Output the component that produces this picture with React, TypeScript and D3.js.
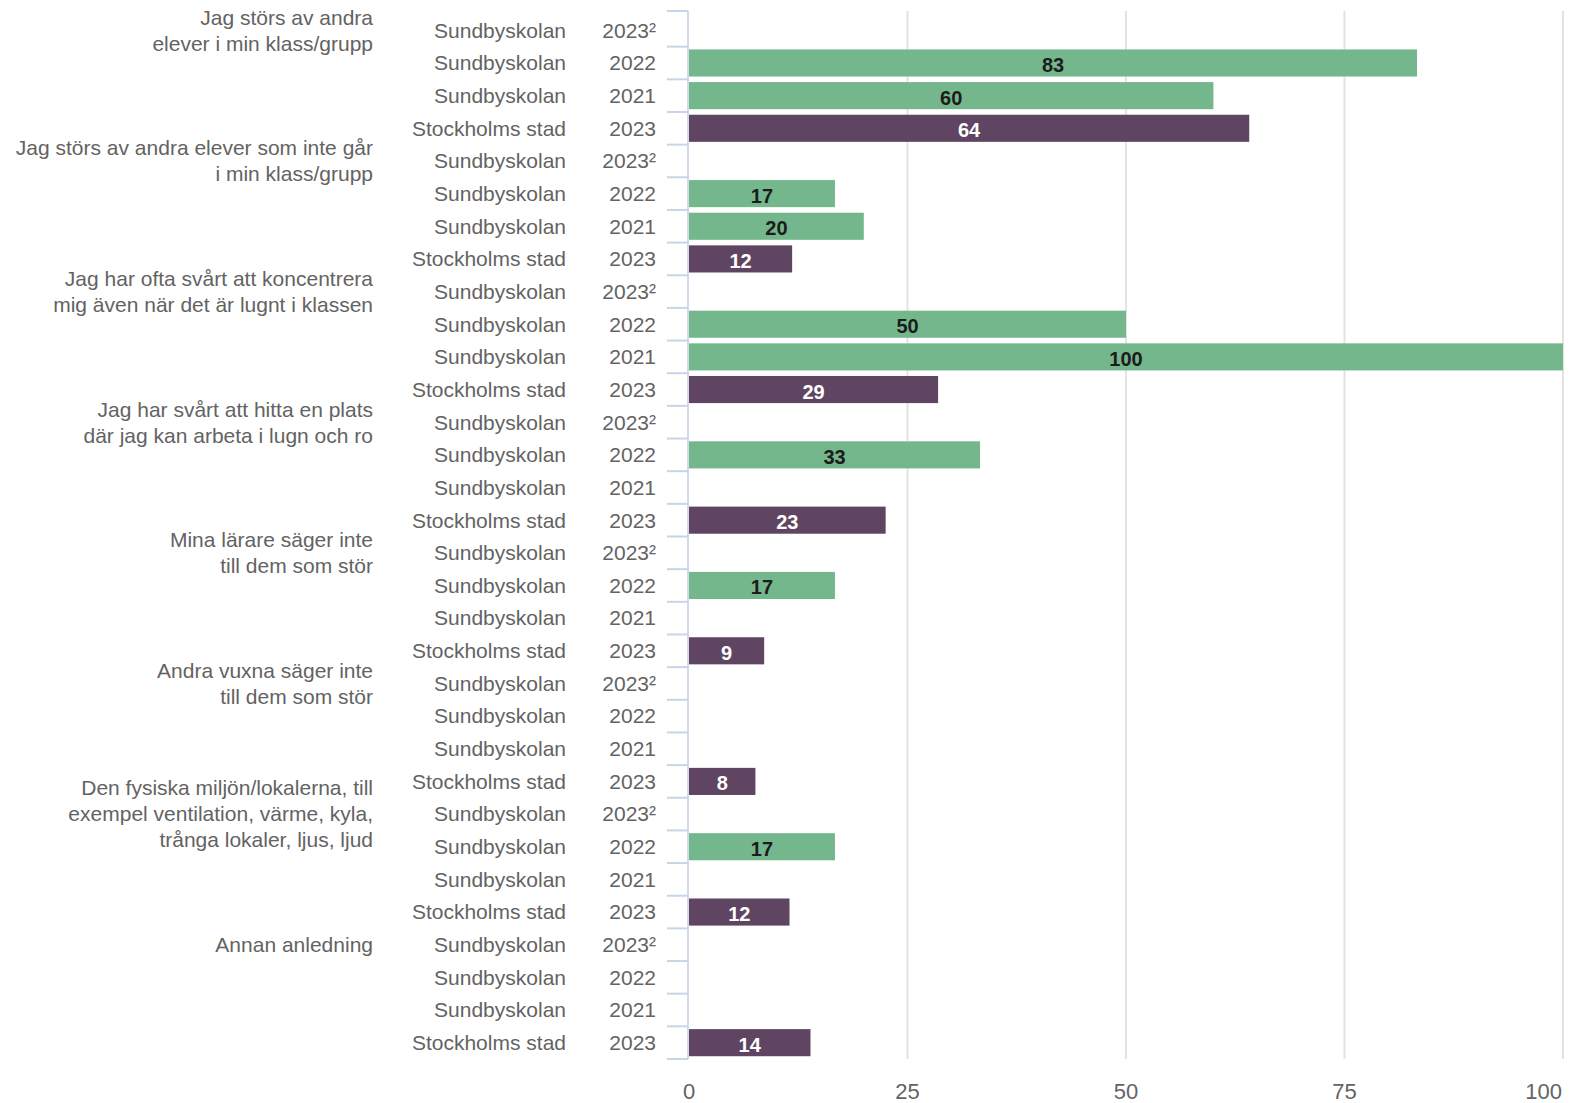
import * as d3 from "d3";

// survey statements (one group of four rows each)
const categories: string[][] = [
  ["Jag störs av andra", "elever i min klass/grupp"],
  ["Jag störs av andra elever som inte går", "i min klass/grupp"],
  ["Jag har ofta svårt att koncentrera", "mig även när det är lugnt i klassen"],
  ["Jag har svårt att hitta en plats", "där jag kan arbeta i lugn och ro"],
  ["Mina lärare säger inte", "till dem som stör"],
  ["Andra vuxna säger inte", "till dem som stör"],
  ["Den fysiska miljön/lokalerna, till", "exempel ventilation, värme, kyla,", "trånga lokaler, ljus, ljud"],
  ["Annan anledning"],
];

// rows inside each group
const seriesUnits = ["Sundbyskolan", "Sundbyskolan", "Sundbyskolan", "Stockholms stad"];
const seriesYears = ["2023²", "2022", "2021", "2023"];

const sund2023: (number | null)[] = [null, null, null, null, null, null, null, null];
const sund2022: (number | null)[] = [83.3, 16.7, 50, 33.3, 16.7, null, 16.7, null];
const sund2021: (number | null)[] = [60, 20, 100, null, null, null, null, null];
const sthlm2023: (number | null)[] = [64.1, 11.8, 28.5, 22.5, 8.6, 7.6, 11.5, 13.9];

const xTicks = [0, 25, 50, 75, 100];

const GREEN = "#74b78c";
const PURPLE = "#5f4562";
const TEXT = "#636363";
const FONT = "'Liberation Sans', Arial, sans-serif";

interface Row {
  key: string;
  group: number;
  idx: number;
  unit: string;
  year: string;
  value: number | null;
}

const seriesValues = [sund2023, sund2022, sund2021, sthlm2023];

const rows: Row[] = [];
categories.forEach((_, g) => {
  seriesUnits.forEach((unit, s) => {
    rows.push({
      key: `${g}-${s}`,
      group: g,
      idx: s,
      unit,
      year: seriesYears[s],
      value: seriesValues[s][g],
    });
  });
});

export default function App() {
  const width = 1581;
  const height = 1103;

  const x = d3.scaleLinear().domain([0, 100]).range([689, 1563]);
  const y = d3
    .scaleBand<string>()
    .domain(rows.map(r => r.key))
    .range([14, 1059])
    .paddingInner(0.17)
    .paddingOuter(0.085);

  const step = y.step();
  const bw = y.bandwidth();
  const center = (k: string) => (y(k) as number) + bw / 2;
  const boundaries = d3.range(rows.length + 1).map(i => 14 + i * step);

  return (
    <svg
      width={width}
      height={height}
      style={{ position: "absolute", left: 0, top: 0, display: "block", background: "#fff" }}
      fontFamily={FONT}
    >
      {/* grid */}
      {xTicks.filter(t => t > 0).map(t => (
        <line key={t} x1={x(t)} x2={x(t)} y1={11} y2={1059} stroke="#e3e3e3" strokeWidth={2} />
      ))}

      {/* bars */}
      {rows.map(r =>
        r.value == null ? null : (
          <g key={r.key}>
            <rect
              x={x(0)}
              y={y(r.key)}
              width={x(r.value) - x(0)}
              height={bw}
              fill={r.idx === 3 ? PURPLE : GREEN}
            />
            <text
              x={(x(0) + x(r.value)) / 2}
              y={center(r.key) + 9}
              textAnchor="middle"
              fontWeight="bold"
              fontSize={20}
              fill={r.idx === 3 ? "#ffffff" : "#1c1c1c"}
            >
              {Math.round(r.value)}
            </text>
          </g>
        )
      )}

      {/* y axis */}
      <line x1={688} x2={688} y1={11} y2={1059} stroke="#d2d9ea" strokeWidth={2} />
      {boundaries.map((b, i) => (
        <line key={i} x1={667} x2={688} y1={i === 0 ? 11 : b} y2={i === 0 ? 11 : b} stroke="#c9d3ea" strokeWidth={2} />
      ))}

      {/* row labels */}
      {rows.map(r => (
        <g key={r.key} fontSize={21} fill={TEXT}>
          <text x={566} y={center(r.key)} dy="0.35em" textAnchor="end">
            {r.unit}
          </text>
          <text x={656} y={center(r.key)} dy="0.35em" textAnchor="end">
            {r.year}
          </text>
        </g>
      ))}

      {/* category labels, centred on the first row of each group */}
      {categories.map((lines, g) => {
        const cy = center(`${g}-0`);
        const lh = 26;
        const top = cy - ((lines.length - 1) * lh) / 2;
        return (
          <text key={g} x={373} fontSize={21} fill={TEXT} textAnchor="end">
            {lines.map((l, i) => (
              <tspan key={i} x={373} y={top + i * lh} dy="0.35em">
                {l}
              </tspan>
            ))}
          </text>
        );
      })}

      {/* x axis labels */}
      {xTicks.map(t => (
        <text
          key={t}
          x={t === 100 ? 1562 : x(t)}
          y={1099}
          fontSize={22}
          fill={TEXT}
          textAnchor={t === 100 ? "end" : "middle"}
        >
          {t}
        </text>
      ))}
    </svg>
  );
}
